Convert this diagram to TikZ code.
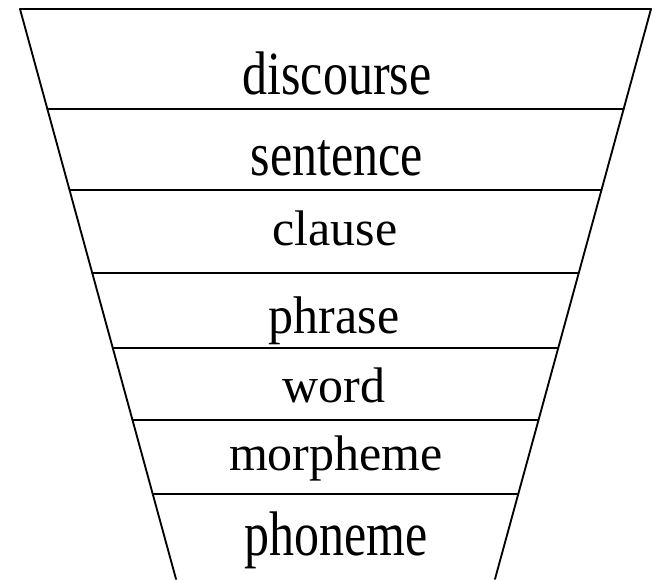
\documentclass[tikz,border=0pt]{standalone}
\usepackage{fontspec}
\setmainfont{Liberation Serif}
\usetikzlibrary{calc}

\begin{document}
\begin{tikzpicture}[
  x=0.75pt,y=0.75pt,
  edge/.style={line width=1.4pt,line cap=round},
  level/.style={anchor=base,inner sep=0pt,font=\fontsize{37.5}{40}\selectfont}
]
  \useasboundingbox (0,0) rectangle (652,-579);
  % funnel corners
  \coordinate (tl) at (20,-9);
  \coordinate (tr) at (651,-9);
  \coordinate (bl) at (176,-579);
  \coordinate (br) at (495,-579);
  \draw[edge] (tl) -- (tr);
  \draw[edge] (tl) -- (bl);
  \draw[edge] (tr) -- (br);
  \foreach \y in {109,190,273,348,420,494}
    \draw[edge] ($(tl)!{(\y-9)/570}!(bl)$) -- ($(tr)!{(\y-9)/570}!(br)$);
  % level names
  \node[level] (discourse) at (337,-94)  {\scalebox{1}[1.23]{discourse}};
  \node[level] (sentence)  at (337,-175) {\scalebox{1}[1.24]{sentence}};
  \node[level] (clause)    at (335,-245) {clause};
  \node[level] (phrase)    at (334,-333) {\scalebox{1}[1.06]{phrase}};
  \node[level] (word)      at (334,-402) {word};
  \node[level] (morpheme)  at (336,-470) {morpheme};
  \node[level] (phoneme)   at (336,-555) {\scalebox{1}[1.26]{phoneme}};
\end{tikzpicture}
\end{document}
